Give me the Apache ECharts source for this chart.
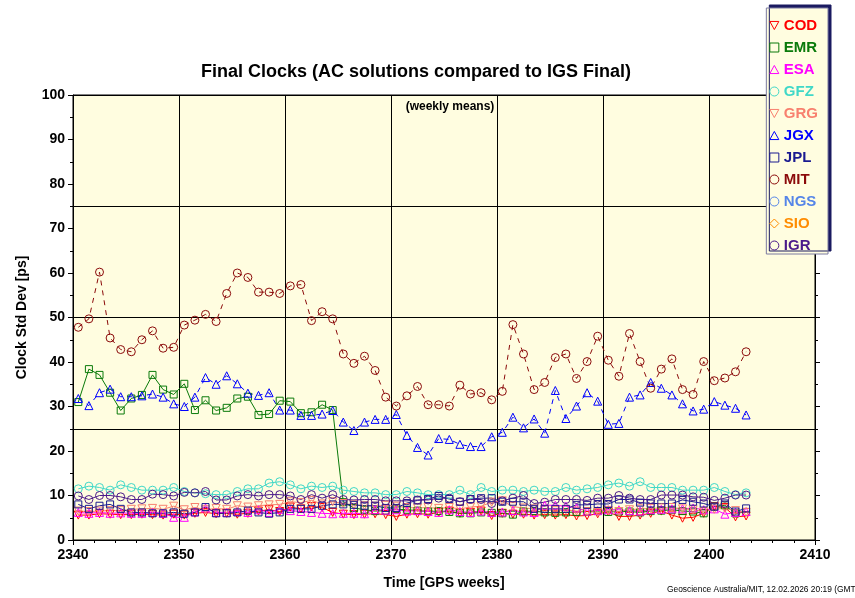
<!DOCTYPE html>
<html>
<head>
<meta charset="utf-8">
<script src="https://cdn.jsdelivr.net/npm/echarts@6/dist/echarts.min.js"></script>
<style>
  html, body { margin: 0; padding: 0; background: #fff; }
  #chart { width: 855px; height: 598px; }
</style>
</head>
<body>
<div id="chart"></div>
<script>
// GPS weeks (points are plotted at mid-week)
const weeks = [
  2340, 2341, 2342, 2343, 2344, 2345, 2346, 2347, 2348, 2349,
  2350, 2351, 2352, 2353, 2354, 2355, 2356, 2357, 2358, 2359,
  2360, 2361, 2362, 2363, 2364, 2365, 2366, 2367, 2368, 2369,
  2370, 2371, 2372, 2373, 2374, 2375, 2376, 2377, 2378, 2379,
  2380, 2381, 2382, 2383, 2384, 2385, 2386, 2387, 2388, 2389,
  2390, 2391, 2392, 2393, 2394, 2395, 2396, 2397, 2398, 2399,
  2400, 2401, 2402, 2403
];

const cod = [
  5.6, 5.6, 5.9, 5.8, 5.7, 5.7, 5.8, 5.7, 5.6, 5.8,
  5.6, 6.0, 6.2, 5.9, 6.0, 5.8, 6.0, 6.5, 6.8, 6.4,
  7.4, 7.0, 7.5, 7.3, 6.2, 5.8, 5.7, 5.8, 5.9, 5.7,
  5.3, 5.8, 5.9, 5.8, 6.2, 6.5, 6.0, 6.2, 6.5, 5.5,
  6.0, 5.8, 5.8, 5.6, 5.7, 5.6, 5.7, 5.4, 5.5, 5.9,
  6.3, 5.3, 5.3, 5.6, 6.0, 6.5, 5.6, 4.9, 5.1, 6.0,
  7.5, 7.3, 5.2, 5.4
];
const emr = [
  31.0, 38.4, 37.1, 33.1, 29.1, 31.8, 32.6, 37.1, 33.8, 32.7,
  35.1, 29.2, 31.4, 29.1, 29.7, 31.8, 32.2, 28.1, 28.3, 31.3,
  31.1, 28.5, 28.7, 30.4, 29.2, 8.5, 7.2, 6.8, 6.5, 6.6,
  6.9, 6.8, 6.6, 6.4, 6.5, 6.3, 6.0, 6.0, 6.2, 6.1,
  6.0, 5.7, 6.4, 6.5, 6.2, 6.1, 6.2, 6.3, 6.4, 6.5,
  6.3, 6.4, 6.4, 6.2, 6.5, 6.6, 6.8, 6.5, 6.4, 6.0,
  7.5, 7.8, 6.0, 6.3
];
const esa = [
  6.2, 6.0, 6.2, 6.0, 6.1, 6.0, 6.0, 6.2, 6.0, 5.1,
  5.1, 6.3, 7.2, 6.2, 6.2, 6.4, 6.2, 6.8, 6.2, 6.9,
  6.6, 6.4, 6.2, 6.0, 5.9, 6.0, 6.0, 5.9, 6.8, 6.7,
  6.8, 6.5, 6.6, 6.4, 6.2, 6.8, 6.4, 6.2, 6.5, 6.2,
  6.3, 6.6, 6.3, 6.2, 7.8, 7.8, 7.6, 7.2, 6.5, 6.6,
  6.8, 6.8, 6.6, 6.5, 6.8, 6.9, 7.0, 7.0, 7.2, 6.8,
  7.0, 5.8, 6.2, 6.4
];
const gfz = [
  11.5, 12.1, 11.8, 11.2, 12.4, 11.8, 11.2, 11.2, 11.2, 11.8,
  10.9, 10.6, 10.4, 10.2, 10.2, 10.9, 11.5, 11.5, 12.8, 13.1,
  12.4, 11.5, 12.1, 11.8, 12.1, 11.2, 10.9, 10.6, 10.6, 10.2,
  10.2, 10.9, 10.6, 10.2, 10.2, 10.2, 11.2, 10.2, 11.8, 10.9,
  11.2, 11.2, 10.9, 11.2, 10.9, 10.9, 11.8, 11.2, 11.5, 11.8,
  12.4, 12.8, 12.1, 13.1, 11.8, 11.8, 11.8, 11.2, 11.2, 11.2,
  11.8, 10.9, 10.2, 10.6
];
const grg = [
  6.5, 6.4, 6.5, 6.6, 6.6, 6.9, 7.0, 7.1, 6.9, 7.6,
  6.8, 7.3, 6.8, 7.1, 6.9, 7.7, 7.4, 7.7, 7.9, 8.0,
  8.6, 8.4, 8.9, 8.1, 8.6, 8.2, 7.9, 7.7, 7.6, 7.8,
  7.6, 7.3, 7.2, 7.3, 7.1, 7.3, 7.0, 7.4, 7.6, 8.5,
  8.8, 7.5, 7.2, 7.0, 6.8, 6.6, 6.8, 6.5, 6.4, 6.2,
  6.6, 6.4, 6.8, 7.0, 7.1, 7.2, 7.3, 7.0, 6.8, 6.4,
  6.9, 7.1, 6.6, 6.2
];
const jgx = [
  31.8, 30.2, 33.1, 33.9, 32.2, 32.2, 32.4, 32.8, 32.1, 30.6,
  30.0, 32.1, 36.5, 35.0, 36.9, 35.1, 33.0, 32.5, 33.1, 29.2,
  29.2, 28.0, 28.0, 28.3, 29.1, 26.5, 24.6, 26.5, 27.1, 27.1,
  28.2, 23.5, 20.8, 19.1, 22.8, 22.6, 21.5, 21.0, 21.0, 23.2,
  24.2, 27.6, 25.2, 27.2, 24.0, 33.6, 27.3, 30.1, 33.1, 31.2,
  26.0, 26.2, 32.1, 32.6, 35.4, 34.1, 32.6, 30.6, 29.0, 29.4,
  31.1, 30.3, 29.6, 28.1
];
const jpl = [
  8.0, 7.0, 7.7, 8.0, 7.0, 6.2, 6.2, 6.0, 6.0, 6.2,
  5.9, 6.2, 7.4, 6.0, 6.0, 6.2, 6.6, 6.2, 5.9, 6.2,
  7.0, 7.0, 7.0, 7.7, 8.0, 8.0, 7.9, 7.7, 7.7, 7.2,
  7.2, 8.3, 8.9, 9.2, 9.9, 9.2, 8.6, 9.2, 9.4, 9.4,
  8.6, 8.6, 8.6, 7.0, 7.0, 7.0, 7.0, 7.9, 7.9, 8.1,
  8.1, 9.1, 9.1, 8.4, 8.2, 8.2, 8.2, 9.0, 8.6, 8.2,
  7.5, 8.2, 6.4, 7.1
];
const mit = [
  47.8, 49.7, 60.2, 45.4, 42.8, 42.3, 45.0, 47.0, 43.1, 43.3,
  48.3, 49.4, 50.7, 49.1, 55.4, 60.0, 59.0, 55.7, 55.7, 55.4,
  57.1, 57.4, 49.3, 51.3, 49.7, 41.8, 39.7, 41.3, 38.1, 32.1,
  30.1, 32.4, 34.5, 30.4, 30.4, 30.1, 34.8, 32.8, 33.1, 31.5,
  33.4, 48.4, 41.8, 33.8, 35.4, 41.0, 41.8, 36.3, 40.1, 45.8,
  40.4, 36.8, 46.4, 40.1, 34.1, 38.4, 40.7, 33.8, 32.7, 40.1,
  35.8, 36.4, 37.8, 42.3
];
const ngs = [];
const sio = [];
const igr = [
  9.9, 9.1, 10.0, 10.0, 9.7, 9.1, 9.1, 10.3, 10.2, 9.9,
  10.7, 10.6, 10.9, 9.0, 9.0, 9.9, 10.2, 9.9, 10.2, 10.2,
  9.9, 9.1, 10.2, 9.4, 10.2, 9.1, 9.0, 9.1, 9.1, 8.8,
  8.8, 8.8, 9.0, 9.0, 9.4, 9.4, 8.6, 9.1, 9.1, 8.2,
  8.8, 9.4, 10.0, 8.2, 8.5, 9.1, 9.1, 9.1, 8.9, 9.4,
  9.4, 10.0, 9.4, 9.1, 9.1, 10.1, 10.1, 10.1, 9.7, 9.6,
  8.9, 9.4, 10.1, 10.1
];

const TRI_DOWN = 'path://M0,0L10,0L5,9Z';
const TRI_UP = 'path://M5,0L10,9L0,9Z';

const centres = [
  { name: 'COD', color: '#ff0000', symbol: TRI_DOWN, values: cod },
  { name: 'EMR', color: '#0a7a0a', symbol: 'rect', values: emr },
  { name: 'ESA', color: '#ff00ff', symbol: TRI_UP, values: esa },
  { name: 'GFZ', color: '#40d8c8', symbol: 'circle', values: gfz },
  { name: 'GRG', color: '#f8806e', symbol: TRI_DOWN, values: grg },
  { name: 'JGX', color: '#0000ff', symbol: TRI_UP, values: jgx, dashed: true },
  { name: 'JPL', color: '#1a1a90', symbol: 'rect', values: jpl },
  { name: 'MIT', color: '#8b0a0a', symbol: 'circle', values: mit, dashed: true },
  { name: 'NGS', color: '#5585e8', symbol: 'circle', values: ngs },
  { name: 'SIO', color: '#ff8c00', symbol: 'diamond', values: sio },
  { name: 'IGR', color: '#4b1a8a', symbol: 'circle', values: igr },
];

const font = 'Arial, "Liberation Sans", sans-serif';

const series = centres.map((c) => ({
  name: c.name,
  type: 'line',
  data: c.values.map((v, i) => [weeks[i] + 0.5, v]),
  symbol: c.symbol,
  symbolSize: c.symbol === 'rect' ? 7 : 8,
  showAllSymbol: true,
  lineStyle: { color: c.color, width: 1, type: c.dashed ? [5, 5] : 'solid' },
  itemStyle: { color: 'transparent', borderColor: c.color, borderWidth: 1 },
  emphasis: { disabled: true },
  animation: false,
}));

const chart = echarts.init(document.getElementById('chart'));
chart.setOption({
  animation: false,
  backgroundColor: '#ffffff',
  title: [
    {
      text: 'Final Clocks (AC solutions compared to IGS Final)',
      left: 411, top: 58, textAlign: 'center',
      textStyle: { fontFamily: font, fontSize: 18, fontWeight: 'bold', color: '#000' },
    },
    {
      text: '(weekly means)',
      left: 445, top: 96, textAlign: 'center',
      textStyle: { fontFamily: font, fontSize: 12, fontWeight: 'bold', color: '#000' },
    },
  ],
  legend: {
    orient: 'vertical',
    right: 27, top: 8,
    padding: [10, 10, 1, 3],
    itemWidth: 9, itemHeight: 9, itemGap: 7,
    backgroundColor: '#fffde0',
    borderColor: '#7a7aa0', borderWidth: 1,
    shadowColor: '#1a1a60', shadowBlur: 0, shadowOffsetX: 3, shadowOffsetY: -3,
    selectedMode: false,
    data: centres.map((c) => ({
      name: c.name,
      icon: c.symbol,
      itemStyle: { color: 'transparent', borderColor: c.color, borderWidth: 1 },
      textStyle: { color: c.color, fontFamily: font, fontSize: 15, fontWeight: 'bold' },
    })),
  },
  grid: {
    left: 73, right: 40, top: 95, bottom: 58,
    show: true, backgroundColor: '#fffde0', borderColor: '#000', borderWidth: 1,
  },
  xAxis: {
    type: 'value', min: 2340, max: 2410, interval: 10,
    name: 'Time [GPS weeks]', nameLocation: 'middle', nameGap: 36,
    nameTextStyle: { fontFamily: font, fontSize: 14, fontWeight: 'bold', color: '#000' },
    axisLine: { lineStyle: { color: '#000' } },
    axisTick: { inside: false, length: 5, lineStyle: { color: '#000' } },
    minorTick: { show: true, splitNumber: 5, length: 3, lineStyle: { color: '#000' } },
    axisLabel: {
      fontFamily: font, fontSize: 14, fontWeight: 'bold', color: '#000', margin: 8,
      formatter: (v) => String(v),
    },
    splitLine: { show: true, lineStyle: { color: '#000', width: 1 } },
  },
  yAxis: [
    {
      type: 'value', min: 0, max: 100, interval: 10, position: 'left',
      name: 'Clock Std Dev [ps]', nameLocation: 'middle', nameGap: 44,
      nameTextStyle: { fontFamily: font, fontSize: 14, fontWeight: 'bold', color: '#000' },
      axisLine: { show: true, lineStyle: { color: '#000' } },
      axisTick: { show: true, length: 5, lineStyle: { color: '#000' } },
      minorTick: { show: true, splitNumber: 2, length: 3, lineStyle: { color: '#000' } },
      axisLabel: { fontFamily: font, fontSize: 14, fontWeight: 'bold', color: '#000', margin: 8 },
      splitLine: { show: false },
    },
    {
      type: 'value', min: 0, max: 100, interval: 10, position: 'right',
      axisLine: { show: true, lineStyle: { color: '#000' } },
      axisTick: { show: true, length: 5, lineStyle: { color: '#000' } },
      minorTick: { show: true, splitNumber: 2, length: 3, lineStyle: { color: '#000' } },
      axisLabel: { show: false },
      splitLine: { show: false },
    },
    {
      type: 'value', min: 0, max: 100, interval: 25, position: 'right',
      axisLine: { show: false }, axisTick: { show: false }, axisLabel: { show: false },
      splitLine: { show: true, lineStyle: { color: '#000', width: 1 } },
    },
  ],
  graphic: [
    {
      type: 'text', left: 667, top: 586,
      style: {
        text: 'Geoscience Australia/MIT, 12.02.2026 20:19 (GMT)',
        fontFamily: font, fontSize: 8.4, fill: '#000',
      },
    },
  ],
  series,
});
</script>
</body>
</html>
